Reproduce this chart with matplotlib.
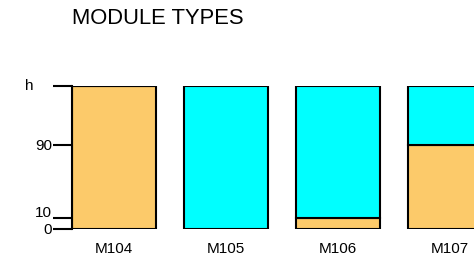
import numpy as np
import matplotlib
matplotlib.use("Agg")
import matplotlib.pyplot as plt
from matplotlib.transforms import ScaledTranslation

plt.rcParams['font.family'] = ['Liberation Sans', 'DejaVu Sans']

categories = ["M104", "M105", "M106", "M107"]
H = 150
orange_vals = [H, 0, 10, 90]          # lower segment (0 -> value)
cyan_vals = [0, H, H - 10, H - 90]    # upper segment stacked on orange
tick_vals = [0, 10, 90, H]
tick_labels = ["0", "10", "90", "h"]

# schematic (non-linear) vertical scale
src = [0, 10, 90, H]
dst = [0, 11, 84, 143]
fwd = lambda v: np.interp(v, src, dst)
inv = lambda v: np.interp(v, dst, src)

fig = plt.figure(figsize=(4.74, 2.55), dpi=100)
ax = fig.add_axes([72/474, 25/255, 1 - 72/474, 143/255])
ax.set_yscale('function', functions=(fwd, inv))

x = np.arange(len(categories))
w = 0.75
orange = "#FCCA6A"
cyan = "#00FFFF"
ax.bar(x, orange_vals, width=w, color=orange, edgecolor="black", linewidth=1.5)
ax.bar(x, cyan_vals, width=w, bottom=orange_vals, color=cyan, edgecolor="black", linewidth=1.5)

ax.set_xlim(-0.375, -0.375 + 402/112)
ax.set_ylim(0, H)
ax.set_xticks(x)
ax.set_xticklabels(categories, fontsize=11)
ax.tick_params(axis='x', length=0, pad=9)
ax.set_yticks(tick_vals)
ax.set_yticklabels([""] * len(tick_vals))
ax.tick_params(axis='y', length=13.7, width=1.5, pad=0)
ax.yaxis.set_minor_locator(matplotlib.ticker.NullLocator())
for s in ['top', 'right', 'bottom']:
    ax.spines[s].set_visible(False)
ax.spines['left'].set_linewidth(1.5)

# tick labels placed as text (schematic offsets as in reference)
yt = ax.get_yaxis_transform()
offsets_px = {"0": (-20, 0), "10": (-20, 6), "90": (-20, 0), "h": (-39, 1)}
for v, lab in zip(tick_vals, tick_labels):
    dx, dy = offsets_px[lab]
    tr = yt + ScaledTranslation(dx/100, dy/100, fig.dpi_scale_trans)
    ax.text(0, v, lab, transform=tr, fontsize=11, ha='right', va='center')

fig.text(72/474, 1 - 19/255, "MODULE TYPES", fontsize=15.8, ha='left', va='center')

fig.savefig("out.png", dpi=100)
